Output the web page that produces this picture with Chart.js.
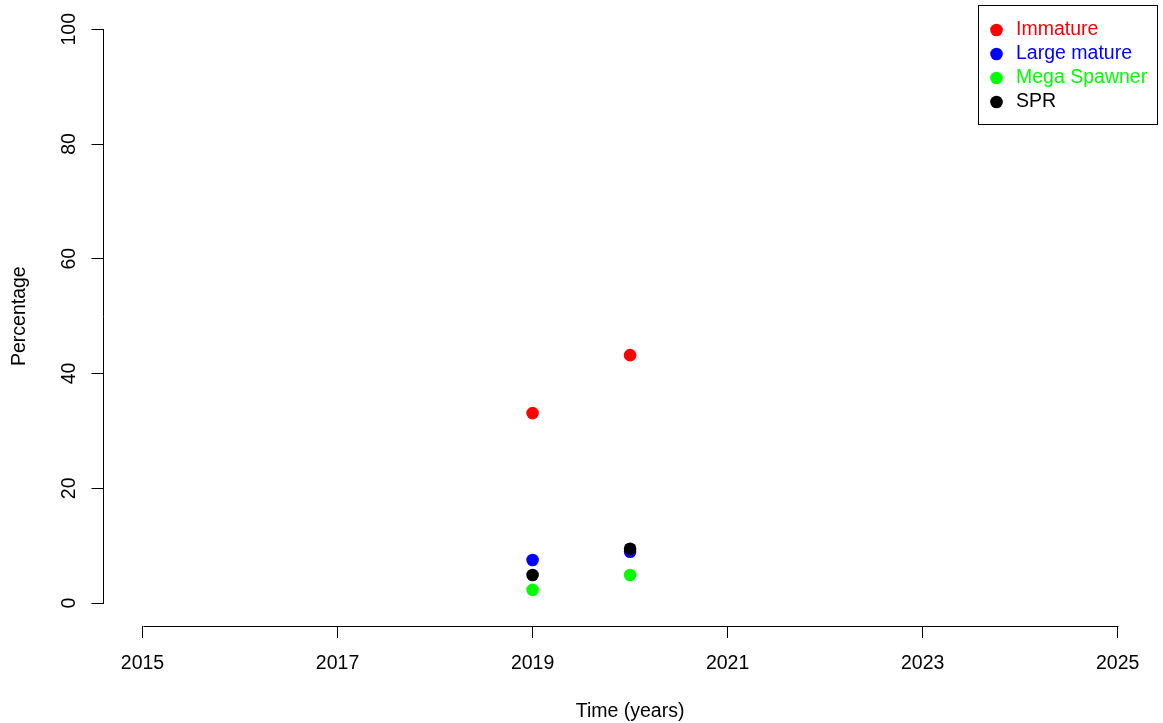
<!DOCTYPE html>
<html>
<head>
<meta charset="utf-8">
<script src="https://cdn.jsdelivr.net/npm/chart.js@4/dist/chart.umd.min.js"></script>
<style>
  html, body { margin: 0; padding: 0; background: #ffffff; }
  canvas { display: block; }
</style>
</head>
<body>
<canvas id="c" width="1163" height="723"></canvas>
<script>
// ---- data ----
const years = [2019, 2020];
const immature = [33.1, 43.2];
const largeMature = [7.5, 8.95];
const megaSpawner = [2.3, 4.9];
const spr = [4.9, 9.45];
const seriesNames = ["Immature", "Large mature", "Mega Spawner", "SPR"];
const seriesColors = ["#FF0000", "#0000FF", "#00FF00", "#000000"];
const xTicks = [2015, 2017, 2019, 2021, 2023, 2025];
const yTicks = [0, 20, 40, 60, 80, 100];
const xTitle = "Time (years)";
const yTitle = "Percentage";

const FONT = "'Liberation Sans', Arial, Helvetica, sans-serif";
const FS = 19.5;
const R = 6.3;

const seriesValues = [immature, largeMature, megaSpawner, spr];
const datasets = seriesValues.map((vals, i) => ({
  label: seriesNames[i],
  data: years.map((yr, j) => ({ x: yr, y: vals[j] })),
  backgroundColor: seriesColors[i],
  borderColor: seriesColors[i],
  borderWidth: 0,
  pointRadius: R,
  pointHoverRadius: R,
  order: 4 - i
}));

// R-style axis lines (only between first and last tick) + boxed legend
const rStyle = {
  id: 'rStyle',
  afterDraw(chart) {
    const ctx = chart.ctx;
    const xs = chart.scales.x, ys = chart.scales.y;
    const ca = chart.chartArea;
    ctx.save();
    ctx.strokeStyle = '#000';
    ctx.lineWidth = 1;
    // y axis line
    const xl = Math.round(ca.left) - 0.5;
    ctx.beginPath();
    ctx.moveTo(xl, Math.round(ys.getPixelForValue(yTicks[yTicks.length - 1])) + 0.5);
    ctx.lineTo(xl, Math.round(ys.getPixelForValue(yTicks[0])) + 0.5);
    ctx.stroke();
    // x axis line
    const yb = Math.round(ca.bottom) + 0.5;
    ctx.beginPath();
    ctx.moveTo(Math.round(xs.getPixelForValue(xTicks[0])) + 0.5, yb);
    ctx.lineTo(Math.round(xs.getPixelForValue(xTicks[xTicks.length - 1])) + 0.5, yb);
    ctx.stroke();

    // legend
    const w = 179, h = 119;
    const bx = Math.round(ca.right - w) + 0.5, by = Math.round(ca.top) - 0.5;
    ctx.strokeRect(bx, by, w, h);
    ctx.font = FS + 'px ' + FONT;
    ctx.textBaseline = 'middle';
    ctx.textAlign = 'left';
    chart.data.datasets.forEach((ds, i) => {
      const cy = by + 24.5 + i * 24;
      ctx.fillStyle = ds.backgroundColor;
      ctx.beginPath();
      ctx.arc(bx + 18, cy, R, 0, Math.PI * 2);
      ctx.fill();
      ctx.fillText(ds.label, bx + 37.5, cy);
    });
    ctx.restore();
  }
};

new Chart(document.getElementById('c'), {
  type: 'scatter',
  data: { datasets },
  options: {
    responsive: false,
    animation: false,
    events: [],
    layout: { padding: { top: 5.5, right: 6, left: 0, bottom: 0 } },
    plugins: {
      legend: { display: false },
      tooltip: { enabled: false }
    },
    scales: {
      x: {
        type: 'linear',
        position: 'bottom',
        min: 2014.6,
        max: 2025.4,
        afterBuildTicks: (s) => { s.ticks = xTicks.map(v => ({ value: v })); },
        afterFit: (s) => { s.height = 97; s.paddingLeft = 0; s.paddingRight = 0; },
        border: { display: false },
        grid: { display: true, drawOnChartArea: false, drawTicks: true, tickLength: 12, color: '#000', lineWidth: 1 },
        ticks: {
          autoSkip: false,
          maxRotation: 0,
          minRotation: 0,
          padding: 14,
          color: '#000',
          font: { family: FONT, size: FS },
          callback: (v) => String(v)
        },
        title: {
          display: true,
          text: xTitle,
          color: '#000',
          font: { family: FONT, size: FS },
          padding: { top: 8.5, bottom: 0 }
        }
      },
      y: {
        type: 'linear',
        position: 'left',
        min: -4,
        max: 104,
        afterBuildTicks: (s) => { s.ticks = yTicks.map(v => ({ value: v })); },
        afterFit: (s) => { s.width = 103.5; s.paddingTop = 0; s.paddingBottom = 0; },
        border: { display: false },
        grid: { display: true, drawOnChartArea: false, drawTicks: true, tickLength: 12, color: '#000', lineWidth: 1 },
        ticks: {
          autoSkip: false,
          minRotation: 90,
          maxRotation: 90,
          crossAlign: 'center',
          padding: 6,
          color: '#000',
          font: { family: FONT, size: FS },
          callback: (v) => String(v)
        },
        title: {
          display: true,
          text: yTitle,
          color: '#000',
          font: { family: FONT, size: FS },
          padding: { top: 7.5, bottom: 0 }
        }
      }
    }
  },
  plugins: [rStyle]
});
</script>
</body>
</html>
